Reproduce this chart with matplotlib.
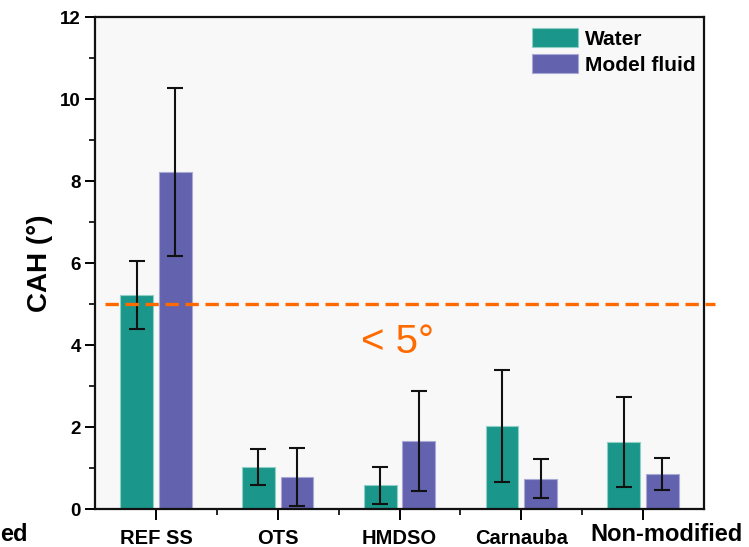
import matplotlib
matplotlib.use("Agg")
import matplotlib.pyplot as plt
import numpy as np
from matplotlib.ticker import MultipleLocator

plt.rcParams['font.family'] = ['Liberation Sans', 'DejaVu Sans']

categories = ["REF SS", "OTS", "HMDSO", "Carnauba", "Non-modified"]
water = [5.22, 1.02, 0.58, 2.02, 1.63]
water_err = [0.82, 0.44, 0.45, 1.37, 1.09]
model = [8.22, 0.78, 1.65, 0.74, 0.86]
model_err = [2.06, 0.70, 1.22, 0.48, 0.39]
threshold = 5.0
series_names = ["Water", "Model fluid"]

W, H = 749, 547
fig = plt.figure(figsize=(W / 100, H / 100), dpi=100, facecolor='white')
ax = fig.add_axes([95 / W, 1 - 509 / H, (704 - 95) / W, (509 - 17) / H])
ax.set_facecolor('#F8F8F8')

x = np.arange(1, len(categories) + 1)
off = 0.158
bw = 0.27
teal = '#1B968A'
purple = '#6262AE'
ekw = dict(ecolor='#111111', elinewidth=1.5, capsize=5.5, capthick=1.5)
ax.bar(x - off, water, bw, color=teal, edgecolor='#8ECFC6', linewidth=0.8,
       yerr=water_err, error_kw=ekw, label=series_names[0], zorder=2)
ax.bar(x + off, model, bw, color=purple, edgecolor='#A9A9D6', linewidth=0.8,
       yerr=model_err, error_kw=ekw, label=series_names[1], zorder=2)

ax.plot([0.58, 5.59], [threshold, threshold], color='#FF6A00', lw=2.4,
        dashes=(4, 2), clip_on=False, zorder=3)
ax.text(2.98, 3.8, "< 5°", color='#FF6A00', fontsize=29, ha='center',
        va='baseline')

ax.set_xlim(0.5, 5.5)
ax.set_ylim(0, 12)
ax.yaxis.set_major_locator(MultipleLocator(2))
ax.yaxis.set_minor_locator(MultipleLocator(1))
ax.set_xticks(x)
ax.set_xticks(np.arange(1.5, 5.5, 1.0), minor=True)
# last label drawn separately (it sits right of its tick and is larger)
ax.set_xticklabels(categories[:-1] + [""], fontweight='bold', fontsize=14.5)
fig.text(666 / W, 1 - 541 / H, categories[-1], fontsize=17, fontweight='bold',
         ha='center', va='baseline')
for lbl in ax.get_yticklabels():
    lbl.set_fontsize(13.5)
    lbl.set_fontweight('bold')

ax.tick_params(axis='both', which='major', direction='out', length=7, width=1.4, pad=3)
ax.tick_params(axis='both', which='minor', direction='out', length=4, width=1.2)
ax.tick_params(axis='x', which='major', length=8, pad=6.5)
for s in ax.spines.values():
    s.set_linewidth(1.6)
    s.set_color('#111111')

ax.set_ylabel("CAH (°)", fontsize=20, fontweight='bold', labelpad=5)

leg = ax.legend(loc='upper left',
                bbox_to_anchor=((532 - 95) / (704 - 95), (509 - 28) / (509 - 17)),
                frameon=False, borderpad=0, borderaxespad=0,
                handlelength=2.2, handleheight=1.05, handletextpad=0.35,
                labelspacing=0.25, prop={'weight': 'bold', 'size': 15})

fig.text(0.0, 1 - 541 / H, "ed", fontsize=17, fontweight='bold', va='baseline', ha='left')

fig.savefig("out.png", dpi=100)
